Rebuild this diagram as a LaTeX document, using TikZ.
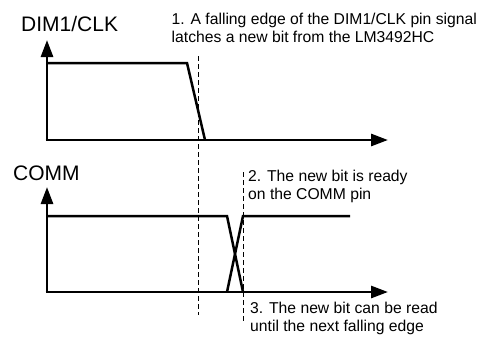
\documentclass[tikz,border=0pt]{standalone}
\usepackage{fontspec}
\setmainfont{Liberation Sans}
\usetikzlibrary{arrows.meta,calc,positioning}

\begin{document}
\begin{tikzpicture}[x=1pt, y=-1pt,
  axis/.style={line width=2.8pt, -{Triangle[length=17pt,width=12pt]}},
  sig/.style={line width=2.5pt, line join=miter},
  guide/.style={line width=0.8pt, dash pattern=on 5pt off 3pt},
  lbl/.style={font=\fontsize{21}{24}\selectfont, inner sep=0pt, anchor=base west},
  note/.style={font=\fontsize{15.7}{18}\selectfont, inner sep=0pt, anchor=base west, align=left}]

\useasboundingbox (0,0) rectangle (481,337);

% Assi DIM1/CLK
\coordinate (o1) at (47,140);
\coordinate (y1) at (47,40);
\coordinate (x1) at (388,140);
\draw[axis] (o1) -- (y1);
\draw[axis] ([xshift=-1.4pt]o1) -- (x1);

% Assi COMM
\coordinate (o2) at (47,292);
\coordinate (y2) at (47,187);
\coordinate (x2) at (388,292);
\draw[axis] (o2) -- (y2);
\draw[axis] ([xshift=-1.4pt]o2) -- (x2);

% Segnale DIM1/CLK
\coordinate (clkH) at (47,63);
\coordinate (clkF) at (187,63);
\coordinate (clkL) at (205,140);
\draw[sig] (clkH) -- (clkF) -- (clkL);

% Segnale COMM
\coordinate (comA) at (47,216);
\coordinate (comB) at (227,216);
\coordinate (comC) at (227,292);
\coordinate (comD) at (243,216);
\coordinate (comE) at (243,292);
\coordinate (comF) at (350,216);
\draw[sig] (comA) -- (comB) -- (comE);
\draw[sig] (comC) -- (comD) -- (comF);

% Linee tratteggiate
\coordinate (g1a) at (198,56);
\coordinate (g1b) at (198,315);
\coordinate (g2a) at (243,172);
\coordinate (g2b) at (243,322);
\draw[guide] (g1a) -- (g1b);
\draw[guide] (g2a) -- (g2b);

% Etichette
\node[lbl] (clk) at (21,32) {DIM1/CLK};
\node[lbl] (comm) at (13,180) {COMM};
\node[note] (n1) at (171.5,43)
      {1. A falling edge of the DIM1/CLK pin signal\\latches a new bit from the LM3492HC};
\node[note] (n2) at (248,199.5)
      {2. The new bit is ready\\on the COMM pin};
\node[note] (n3) at (250,331)
      {3. The new bit can be read\\until the next falling edge};

\end{tikzpicture}
\end{document}
